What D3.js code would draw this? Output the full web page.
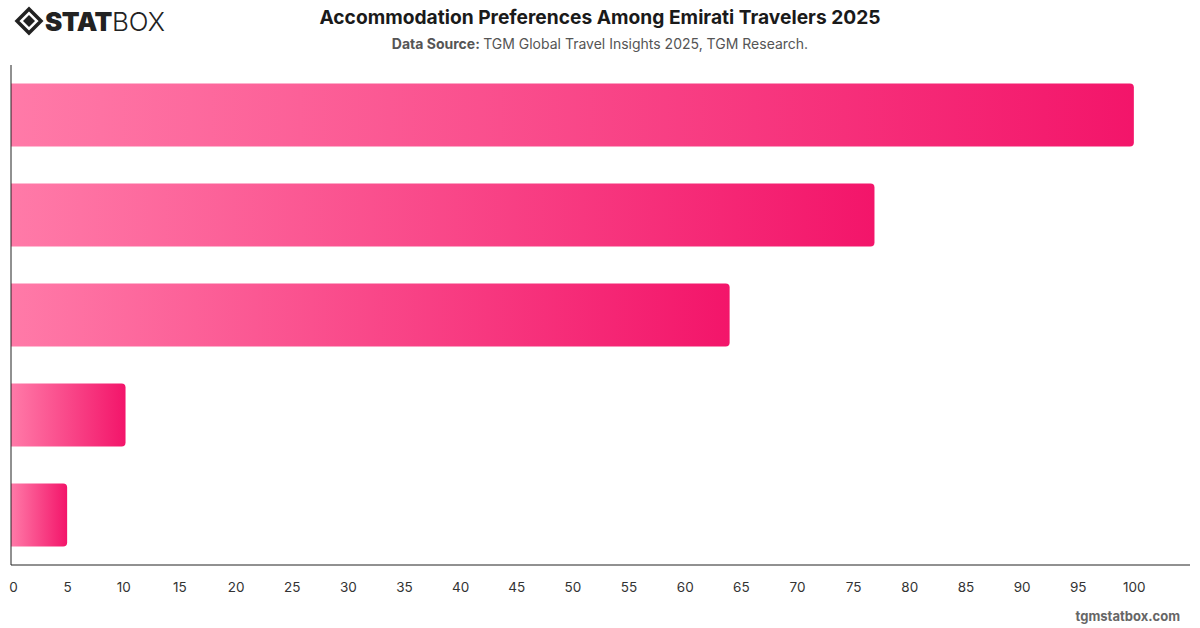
<!DOCTYPE html>
<html>
<head>
<meta charset="utf-8">
<script src="https://cdn.jsdelivr.net/npm/d3@7"></script>
<style>
  body { margin: 0; background: #fff; }
  svg { display: block; font-family: Inter, "Open Sans", sans-serif; }
  .titulo { font-size: 19.2px; font-weight: 700; fill: #1a1a1a; }
  .fuente { font-size: 14px; fill: #555; }
  .eje text { font-size: 13.5px; fill: #333; font-family: Inter, sans-serif; }
  .eje path { stroke: #222; }
</style>
</head>
<body>
<svg width="1200" height="628"></svg>
<script>
// datos del gráfico
const categorias = ['Hotels', 'Vacation rentals', 'Friends & family', 'Hostels', 'Camping'];
const valores = [100, 76.9, 64, 10.2, 5];
const ticks = [0, 5, 10, 15, 20, 25, 30, 35, 40, 45, 50, 55, 60, 65, 70, 75, 80, 85, 90, 95, 100];

const svg = d3.select('svg');
const ancho = +svg.attr('width');
const altura = +svg.attr('height');
const margin = { top: 65, right: 10, bottom: 63, left: 11 };
const anchoInterno = ancho - margin.left - margin.right;
const alturaInterna = altura - margin.top - margin.bottom;

const data = categorias.map((c, i) => ({ cat: c, val: valores[i] }));

const xScale = d3.scaleLinear().domain([0, 105]).range([0, anchoInterno]);
const yScale = d3.scaleBand()
  .domain(categorias)
  .range([0, alturaInterna])
  .paddingInner(0.37)
  .paddingOuter(0.185);

// gradiente
const defs = svg.append('defs');
const grad = defs.append('linearGradient')
  .attr('id', 'grad').attr('x1', '0%').attr('y1', '0%').attr('x2', '100%').attr('y2', '0%');
grad.append('stop').attr('offset', '0%').attr('stop-color', '#ff7aa8');
grad.append('stop').attr('offset', '100%').attr('stop-color', '#f3156a');

const grupo = svg.append('g').attr('transform', `translate(${margin.left}, ${margin.top})`);

// barras con esquinas derechas redondeadas
const r = 4;
grupo.selectAll('path.barra').data(data).enter().append('path')
  .attr('class', 'barra')
  .attr('fill', 'url(#grad)')
  .attr('d', d => {
    const w = xScale(d.val), y = yScale(d.cat), h = yScale.bandwidth();
    return `M0,${y}H${w - r}Q${w},${y} ${w},${y + r}V${y + h - r}Q${w},${y + h} ${w - r},${y + h}H0Z`;
  });

// ejes
grupo.append('g').attr('class', 'eje')
  .call(d3.axisLeft(yScale).tickSize(0).tickFormat(''))
  .call(g => g.select('.domain').attr('d', `M0,0V${alturaInterna}`));

grupo.append('g').attr('class', 'eje')
  .attr('transform', `translate(0, ${alturaInterna})`)
  .call(d3.axisBottom(xScale).tickValues(ticks).tickSize(0).tickPadding(17))
  .call(g => g.select('.domain').attr('d', `M0,0H${anchoInterno}`))
  .call(g => g.selectAll('.tick text').attr('dx', (d, i) => i === 0 ? 2 : 0));

// títulos
svg.append('text').attr('class', 'titulo')
  .attr('x', 600).attr('y', 24).attr('text-anchor', 'middle')
  .text('Accommodation Preferences Among Emirati Travelers 2025');
const fuente = svg.append('text').attr('class', 'fuente')
  .attr('x', 600).attr('y', 49).attr('text-anchor', 'middle');
fuente.append('tspan').attr('font-weight', 700).text('Data Source: ');
fuente.append('tspan').text('TGM Global Travel Insights 2025, TGM Research.');

// marca de agua
svg.append('text')
  .attr('x', 1180).attr('y', 621).attr('text-anchor', 'end')
  .attr('font-size', 13).attr('font-weight', 700).attr('fill', '#666')
  .text('tgmstatbox.com');

// logo
const logo = svg.append('g').attr('transform', 'translate(29, 21)');
logo.append('path').attr('d', 'M0,-12L12,0L0,12L-12,0Z')
  .attr('fill', 'none').attr('stroke', '#222').attr('stroke-width', 3.5);
logo.append('path').attr('d', 'M0,-6L6,0L0,6L-6,0Z').attr('fill', '#222');
const logoTxt = svg.append('text').attr('x', 45).attr('y', 31).attr('font-size', 26).attr('fill', '#222');
logoTxt.append('tspan').attr('font-weight', 900).attr('letter-spacing', -0.5).text('STAT');
logoTxt.append('tspan').attr('font-weight', 300).text('BOX');
</script>
</body>
</html>
